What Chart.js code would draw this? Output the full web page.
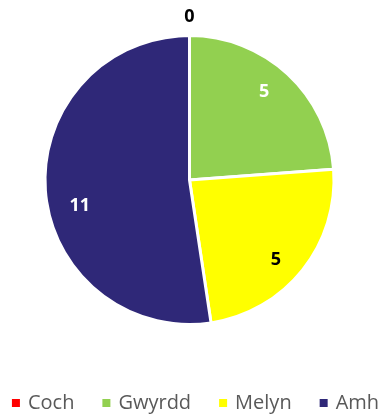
<!DOCTYPE html>
<html><head><meta charset="utf-8">
<script src="https://cdn.jsdelivr.net/npm/chart.js@4/dist/chart.umd.min.js"></script>
<style>html,body{margin:0;padding:0;background:#fff}#wrap{width:383px;height:416px}</style>
</head><body><div id="wrap"><canvas id="c" width="383" height="416"></canvas></div>
<script>
const categories = ["Coch", "Gwyrdd", "Melyn", "Amh"];
const values = [0, 5, 5, 11];
const sliceColors = ["#FF0000", "#92D050", "#FFFF00", "#2F2878"];
const labelColors = ["#000000", "#FFFFFF", "#000000", "#FFFFFF"];
// small per-label placement nudges (px), as in the original best-fit layout
const labelNudge = [[0, 2], [-5, -3], [-5, 6], [7, 16]];

const valueLabels = {
  id: 'valueLabels',
  afterDatasetsDraw(chart) {
    const ctx = chart.ctx;
    const meta = chart.getDatasetMeta(0);
    ctx.save();
    ctx.font = 'bold 18px "Open Sans", sans-serif';
    ctx.textAlign = 'center';
    ctx.textBaseline = 'middle';
    meta.data.forEach((arc, i) => {
      const p = arc.getProps(['x','y','startAngle','endAngle','outerRadius'], true);
      const mid = (p.startAngle + p.endAngle) / 2;
      const v = chart.data.datasets[0].data[i];
      const r = v === 0 ? p.outerRadius + 22 : p.outerRadius * 0.81;
      ctx.fillStyle = labelColors[i];
      ctx.fillText(String(v), p.x + Math.cos(mid) * r + labelNudge[i][0], p.y + Math.sin(mid) * r + 1 + labelNudge[i][1]);
    });
    ctx.restore();
  }
};

const bottomLegend = {
  id: 'bottomLegend',
  afterDraw(chart) {
    const ctx = chart.ctx;
    const labels = chart.data.labels;
    const colors = chart.data.datasets[0].backgroundColor;
    ctx.save();
    ctx.font = '20px "Open Sans", sans-serif';
    ctx.textBaseline = 'middle';
    ctx.textAlign = 'left';
    const box = 8, boxGap = 8, itemGap = 28;
    const widths = labels.map(t => box + boxGap + ctx.measureText(t).width);
    const total = widths.reduce((a, b) => a + b, 0) + itemGap * (labels.length - 1);
    let x = (chart.width - total) / 2 + 4;
    const y = 403;
    labels.forEach((t, i) => {
      ctx.fillStyle = colors[i];
      ctx.fillRect(x, y - box / 2, box, box);
      ctx.fillStyle = '#595959';
      ctx.fillText(t, x + box + boxGap, y);
      x += widths[i] + itemGap;
    });
    ctx.restore();
  }
};

new Chart(document.getElementById('c'), {
  type: 'pie',
  data: {
    labels: categories,
    datasets: [{ data: values, backgroundColor: sliceColors, borderColor: '#FFFFFF', borderWidth: 3 }]
  },
  options: {
    responsive: false,
    animation: false,
    layout: { padding: { top: 34, bottom: 90, left: 0, right: 4 } },
    plugins: {
      tooltip: { enabled: false },
      legend: { display: false }
    }
  },
  plugins: [valueLabels, bottomLegend]
});
</script></body></html>
